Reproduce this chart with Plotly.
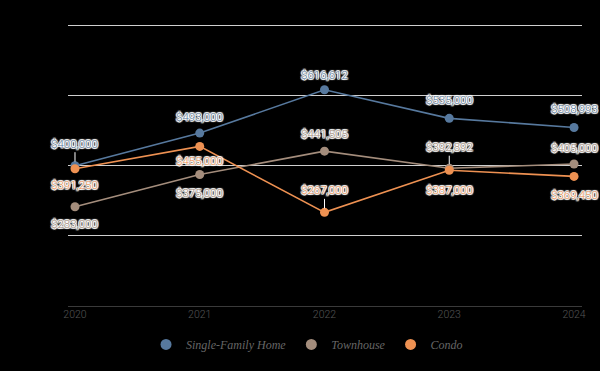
import plotly.graph_objects as go

years = [2020, 2021, 2022, 2023, 2024]
series_names = ["Single-Family Home", "Townhouse", "Condo"]
single_family = [400000, 493000, 616612, 535000, 508993]
townhouse = [283000, 375000, 441505, 392892, 405000]
condo = [391250, 455000, 267000, 387000, 369450]
y_ticks = [0, 200000, 400000, 600000, 800000]

colors = ["#57799e", "#a48d7c", "#ee9152"]
# label pixel offsets (negative = above) and whether a leader line is drawn
label_offsets = [
    [-22, -16, -15, -18, -18],
    [17, 19, -17, -21, -16],
    [16, 15, -22, 20, 19],
]
leaders = [
    [True, False, False, False, False],
    [False, False, False, True, False],
    [False, False, True, False, False],
]

all_values = [single_family, townhouse, condo]
label_font = "Roboto, sans-serif"
halo = "1px 1px 1px #fff, -1px -1px 1px #fff, 1px -1px 1px #fff, -1px 1px 1px #fff, 0px 1px 0px #fff, 0px -1px 0px #fff, 1px 0px 0px #fff, -1px 0px 0px #fff"

fig = go.Figure()
for name, vals, col in zip(series_names, all_values, colors):
    fig.add_trace(go.Scatter(
        x=years, y=vals, mode="lines+markers", name=name, showlegend=False,
        line=dict(color=col, width=1.6),
        marker=dict(color=col, size=9),
        hoverinfo="skip",
    ))
for name, col in zip(series_names, colors):
    fig.add_trace(go.Scatter(
        x=[None], y=[None], mode="markers", name=name,
        marker=dict(color=col, size=11),
    ))

annotations = []
for s, (vals, col) in enumerate(zip(all_values, colors)):
    for i, (yr, v) in enumerate(zip(years, vals)):
        off = label_offsets[s][i]
        common = dict(x=yr, y=v, xref="x", yref="y", text=f"${v:,.0f}",
                      font=dict(family=label_font, size=11.5, weight=300, color=col, shadow=halo))
        if leaders[s][i]:
            annotations.append(dict(
                showarrow=True, arrowhead=0, arrowwidth=1, arrowcolor="#ffffff",
                ax=0, ay=off, standoff=4, **common))
        else:
            annotations.append(dict(showarrow=False, yshift=-off, **common))

fig.update_layout(
    width=600, height=371,
    margin=dict(l=68, r=18, t=24, b=65),
    paper_bgcolor="#000000", plot_bgcolor="#000000",
    annotations=annotations,
    xaxis=dict(
        range=[2019.944, 2024.064], tickvals=years, ticktext=[str(y) for y in years],
        showgrid=False, zeroline=False, showline=False, ticks="",
        tickfont=dict(family=label_font, size=10.5, weight=300, color="#555555"),
    ),
    yaxis=dict(
        range=[0, 804000], tickvals=y_ticks, showticklabels=False,
        showgrid=True, gridcolor="#cfcfcf", gridwidth=1,
        zeroline=True, zerolinecolor="#3a3a3a", zerolinewidth=1,
        showline=False, ticks="",
    ),
    legend=dict(
        orientation="h", x=0.465, xanchor="center",
        y=-0.085, yanchor="top",
        font=dict(family="Liberation Serif, serif", size=12, color="#666666", style="italic"),
        bgcolor="rgba(0,0,0,0)",
    ),
)

fig.write_html(
    "out.html",
    config={"displayModeBar": False},
    post_script="document.body.style.margin='0';document.body.style.background='#000';",
)
